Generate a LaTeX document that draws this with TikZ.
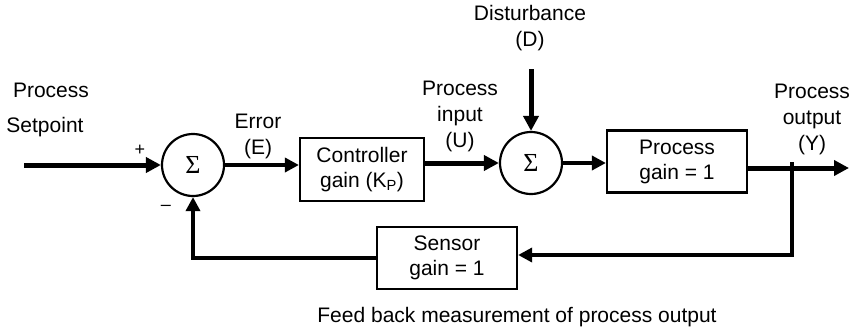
\documentclass[tikz,border=0pt]{standalone}
\usepackage{fontspec}
\setmainfont{Liberation Sans}
\newfontfamily\sigfont{Liberation Serif}
\usetikzlibrary{arrows.meta}
\begin{document}
\begin{tikzpicture}[x=1pt,y=-1pt,
  lbl/.style={font=\fontsize{21}{26}\selectfont, align=center, inner sep=0pt},
  blk/.style={draw, line width=2.2pt, font=\fontsize{21}{25}\selectfont, align=center, inner sep=0pt},
  sumnode/.style={circle, draw, line width=2.2pt, minimum size=62pt, inner sep=0pt, font=\sigfont\fontsize{26}{26}\selectfont},
  heavy/.style={line width=5pt, -{Triangle[length=15pt,width=15pt]}},
  medium/.style={line width=3.5pt, -{Triangle[length=14pt,width=14pt]}},
  ]
\useasboundingbox (0,0) rectangle (850,329);

% blocks
\node[sumnode] (s1) at (193,165) {Σ};
\node[sumnode] (s2) at (531,163) {Σ};
\node[blk, minimum width=124pt, minimum height=63pt] (ctrl) at (362,169.5) {Controller\\gain (K\textsubscript{P})};
\node[blk, minimum width=140pt, minimum height=62pt] (proc) at (677,161.5) {Process\\gain = 1};
\node[blk, minimum width=140pt, minimum height=62pt] (sens) at (447,258) {Sensor\\gain = 1};

% labels
\node[lbl] (lproc) at (51,90) {Process};
\node[lbl] (lset) at (45,127) {Setpoint};
\node[lbl, font=\fontsize{18}{18}\selectfont] (plus) at (140,150) {+};
\node[lbl, font=\fontsize{18}{18}\selectfont] (minus) at (166,208) {–};
\node[lbl] (lerr) at (258,136) {Error\\(E)};
\node[lbl] (lin) at (460,116) {Process\\input\\(U)};
\node[lbl] (ldist) at (530,28) {Disturbance\\(D)};
\node[lbl] (lout) at (812,119) {Process\\output\\(Y)};
\node[lbl] (lfb) at (517,317) {Feed back measurement of process output};

% coordinates
\coordinate (in) at (24,165);
\coordinate (dtop) at (531,69);
\coordinate (out) at (849,168);
\coordinate (brtop) at (792,162);
\coordinate (brbot) at (792,255);

% connectors
\draw[heavy] (in) -- (s1);
\draw[medium] (s1.east) -- (s1.east -| ctrl.west);
\draw[heavy] (ctrl.east |- s2) -- (s2.west);
\draw[heavy] (dtop) -- (s2.north);
\draw[medium] (s2.east) -- (s2.east -| proc.west);
\draw[heavy] (proc.east |- out) -- (out);
\draw[medium] (brtop) -- (brbot) -- (sens.east |- brbot);
\draw[medium] (sens.west) -- (s1 |- sens.west) -- (s1.south);
\end{tikzpicture}
\end{document}
